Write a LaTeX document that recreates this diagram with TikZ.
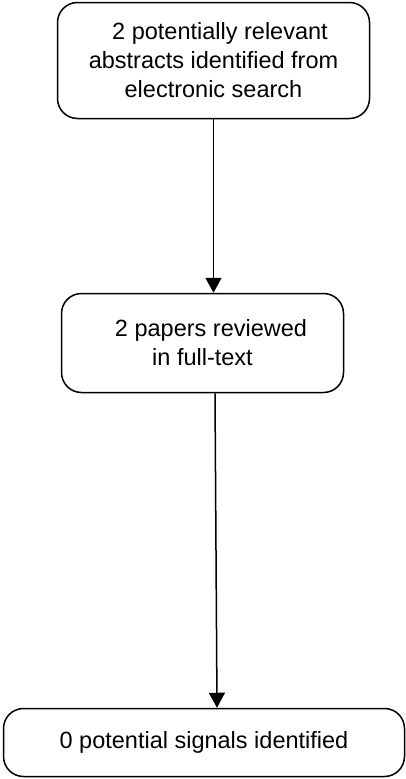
\documentclass[tikz,border=0pt]{standalone}
\usepackage{fontspec}
\setmainfont{Liberation Sans}
\usetikzlibrary{arrows.meta}

\begin{document}
\begin{tikzpicture}[x=1pt,y=-1pt,
    stage/.style={draw,line width=1.5pt,rounded corners=20pt,align=center,
      inner sep=0pt,font=\fontsize{23.5}{29}\selectfont},
    flow/.style={line width=1.5pt,-{Triangle[width=16pt,length=15pt]}}]
      \useasboundingbox (0,0) rectangle (406,779);
      \node[stage,minimum width=312pt,minimum height=116pt] (abstracts) at (213.5,60.5)
        {\hspace*{13pt}2 potentially relevant\\abstracts identified from\\electronic search};
      \node[stage,minimum width=282pt,minimum height=99pt] (papers) at (202.5,343)
        {\hspace*{17pt}2 papers reviewed\\in full-text};
      \node[stage,minimum width=401pt,minimum height=68pt] (signals) at (204,742.5)
        {0 potential signals identified};
      \draw[flow] (abstracts.south) -- (abstracts.south |- papers.north);
      \draw[flow] ([xshift=12.5pt]papers.south) -- ([xshift=13pt]signals.north);
    \end{tikzpicture}
\end{document}
